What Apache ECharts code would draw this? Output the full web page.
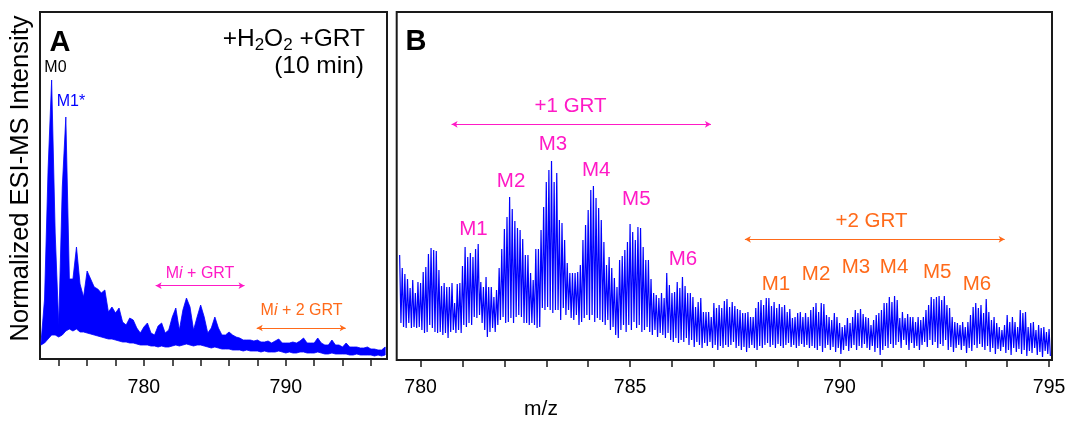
<!DOCTYPE html>
<html><head><meta charset="utf-8">
<script src="https://cdn.jsdelivr.net/npm/echarts@6/dist/echarts.min.js"></script>
<style>html,body{margin:0;padding:0;background:#fff}#c{width:1073px;height:421px}</style>
</head><body><div id="c"></div>
<script>
// ---------- DATA ----------
// Panel A: envelope of the ESI-MS spectrum sampled every 0.25 m/z starting at 772.75
const aStart = 772.75, aStep = 0.25;
const aUpper = [16,60,190,279,126,34,172,242,80,80,112,75,62,88,80,72,70,66,69,47,
  52,46,51,37,34,41,39,31,26,32,36,26,24,33,36,26,29,42,51,29,
  49,61,52,29,42,54,42,26,31,42,31,24,24,27,24,22,21,19,19,19,
  18,19,17,17,18,16,18,20,16,16,16,17,16,18,21,16,16,16,21,16,
  14,14,19,14,14,12,16,12,12,12,11,11,12,10,10,9,9,12];
const aLower = [14,16,20,24,24,22,24,28,30,28,30,27,27,26,25,24,23,22,21,20,
  20,19,18,17,17,16,16,15,14,14,14,13,13,12,13,12,12,13,14,13,
  14,15,14,13,14,14,13,12,11,12,11,10,10,10,9,9,9,8,9,8,
  8,8,7,8,7,7,7,8,7,6,7,6,6,7,7,6,6,6,7,6,
  5,5,6,5,5,5,5,4,4,5,4,4,4,4,3,4,3,4];
// Panel B: isotope peak tops and the valleys after them, one peak every 1/16 m/z from 779.5
const bStart = 779.5, bStep = 0.0625;
const bTops = [105,92,86,81,72,80,67,78,77,88,93,106,112,110,109,90,74,77,73,73,77,57,76,77,94,113,103,107,103,111,116,
  78,73,83,73,73,63,70,92,111,131,143,163,151,139,132,130,121,105,105,87,80,111,111,130,153,178,190,199,178,187,140,137,
  120,97,87,87,87,88,95,120,135,150,170,174,162,152,140,118,95,103,92,82,73,100,104,110,118,136,128,120,133,132,113,100,
  100,81,67,65,62,67,62,87,75,67,68,78,72,83,74,67,67,63,53,58,62,48,48,48,43,57,52,55,52,59,61,
  53,58,54,51,50,47,47,48,43,43,52,58,60,55,62,62,54,58,52,56,53,55,48,51,42,43,47,48,43,47,43,50,
  53,57,48,57,56,45,43,40,47,43,37,33,35,42,37,43,50,47,51,46,43,42,35,40,45,47,50,57,57,63,58,64,
  60,42,48,42,46,43,43,38,43,40,43,50,55,63,61,63,64,60,64,55,52,43,38,37,35,38,33,38,45,53,
  57,52,55,47,61,48,40,43,37,33,30,35,45,38,43,38,33,50,47,48,33,37,38,30,35,32,33,28,31];
const bValleys = [37,33,32,37,32,33,32,33,30,27,28,35,32,28,27,28,25,27,22,28,30,27,30,27,35,33,37,35,43,42,45,
  37,30,23,28,32,28,35,40,43,37,38,42,37,43,45,43,37,37,35,37,35,32,33,52,50,53,50,47,50,50,40,52,
  45,50,42,40,45,35,38,42,45,40,45,38,42,40,38,35,40,30,33,25,22,30,35,28,35,30,38,32,35,28,30,33,
  28,25,30,23,27,25,22,27,20,18,22,17,20,18,22,15,20,13,18,15,12,17,14,18,12,15,10,14,12,15,13,
  15,18,12,14,10,13,8,12,15,12,10,14,12,15,17,13,15,12,16,14,12,15,17,13,15,12,14,16,13,15,12,14,
  12,10,14,8,12,15,10,13,8,12,6,10,14,9,12,15,10,14,12,16,12,10,14,8,12,5,10,14,12,16,12,15,
  18,12,20,15,10,17,12,14,10,15,18,13,20,15,18,12,16,14,20,10,13,8,12,15,10,14,7,12,9,15,
  12,16,13,10,14,8,12,6,11,9,13,7,10,5,12,8,11,6,10,4,9,7,12,5,8,3,9,6,4];
// Axis ticks / labels
const aTickValues = [774,776,778,780,782,784,786,788,790,792,794,796];
const aTickLabels = [780,790];
const bTickValues = [780,781,782,783,784,785,786,787,788,789,790,791,792,793,794,795];
const bTickLabels = [780,785,790,795];
// Annotation texts
const bMagNames = ['M1','M2','M3','M4','M5','M6'];
const bOrgNames = ['M1','M2','M3','M4','M5','M6'];

// ---------- STYLE / LAYOUT ----------
const FONT = '"Liberation Sans", Arial, Helvetica, sans-serif';
const BLUE = '#0000ff', MAG = '#ff1ac6', ORG = '#ff6a1a', INK = '#1a1a1a';
const annot = {
  aM0: [773.77, 291], aM1: [774.86, 257],
  aGrt1: [783.96, 85], aArrow1: [780.83, 787.09, 73.3],
  aGrt2: [791.11, 48], aArrow2: [787.95, 794.22, 31],
  bGrt1: [783.58, 254], bArrow1: [780.74, 786.93, 235.7],
  bGrt2: [790.76, 139], bArrow2: [787.74, 793.94, 120.7],
  bMagX: [781.26, 782.16, 783.16, 784.19, 785.15, 786.26],
  bMagY: [130.7, 179, 216, 189.5, 161, 101],
  bOrgX: [788.48, 789.44, 790.39, 791.30, 792.33, 793.28],
  bOrgY: [75.3, 85.3, 92.5, 93, 88, 75.3]
};

const aRows = aUpper.map((v, i) => [aStart + i * aStep, v, aLower[i]]);
const bData = [];
for (let k = 0; k < bTops.length; k++) {
  const x = bStart + k * bStep;
  bData.push([x, bTops[k]]);
  bData.push([x + bStep / 2, bValleys[k]]);
}

function arrowLine(a, color) {
  return {
    silent: true, symbol: ['arrow', 'arrow'], symbolSize: [5, 6],
    label: {show: false}, emphasis: {disabled: true},
    lineStyle: {color: color, width: 1, type: 'solid'},
    data: [[{coord: [a[0], a[2]]}, {coord: [a[1], a[2]]}]]
  };
}

const chart = echarts.init(document.getElementById('c'), null, {renderer: 'canvas', width: 1073, height: 421});
const axisCommon = {type: 'value', axisLine: {show: false}, splitLine: {show: false}};
chart.setOption({
  animation: false,
  backgroundColor: '#fff',
  grid: [
    {left: 40, top: 12, width: 347, height: 347, show: true, borderColor: INK, borderWidth: 2},
    {left: 396.7, top: 12, width: 655.3, height: 348, show: true, borderColor: INK, borderWidth: 2}
  ],
  xAxis: [
    Object.assign({}, axisCommon, {gridIndex: 0, min: 772.68, max: 797.13,
      axisTick: {show: true, customValues: aTickValues, length: 7, lineStyle: {color: INK, width: 1.5}},
      axisLabel: {customValues: aTickLabels, fontSize: 19.5, color: '#000', fontFamily: FONT, margin: 19}}),
    Object.assign({}, axisCommon, {gridIndex: 1, min: 779.43, max: 795.07,
      axisTick: {show: true, customValues: bTickValues, length: 7, lineStyle: {color: INK, width: 1.5}},
      axisLabel: {customValues: bTickLabels, fontSize: 19.5, color: '#000', fontFamily: FONT, margin: 18}})
  ],
  yAxis: [
    {type: 'value', gridIndex: 0, min: 0, max: 347, show: false},
    {type: 'value', gridIndex: 1, min: 0, max: 348, show: false}
  ],
  series: [
    {type: 'custom', xAxisIndex: 0, yAxisIndex: 0, data: aRows, silent: true, clip: true,
      encode: {x: 0, y: [1, 2]},
      renderItem: function (params, api) {
        if (params.dataIndex !== 0) return null;
        const pts = [];
        for (let i = 0; i < aRows.length; i++) pts.push(api.coord([aRows[i][0], aRows[i][1]]));
        for (let i = aRows.length - 1; i >= 0; i--) pts.push(api.coord([aRows[i][0], aRows[i][2]]));
        return {type: 'polygon', shape: {points: pts}, style: {fill: BLUE, stroke: BLUE, lineWidth: 0.8}};
      }},
    {type: 'line', xAxisIndex: 0, yAxisIndex: 0, data: [], symbol: 'none', markLine: arrowLine(annot.aArrow1, MAG)},
    {type: 'line', xAxisIndex: 0, yAxisIndex: 0, data: [], symbol: 'none', markLine: arrowLine(annot.aArrow2, ORG)},
    {type: 'line', xAxisIndex: 1, yAxisIndex: 1, data: bData, symbol: 'none',
      lineStyle: {width: 1.2, color: BLUE}, silent: true},
    {type: 'line', xAxisIndex: 1, yAxisIndex: 1, data: [], symbol: 'none', markLine: arrowLine(annot.bArrow1, MAG)},
    {type: 'line', xAxisIndex: 1, yAxisIndex: 1, data: [], symbol: 'none', markLine: arrowLine(annot.bArrow2, ORG)}
  ]
});

// ---------- TEXT ----------
const ctx = document.createElement('canvas').getContext('2d');
function tw(str, size, weight) { ctx.font = (weight || 'normal') + ' ' + size + 'px ' + FONT; return ctx.measureText(str).width; }
function px(panel, p) { return chart.convertToPixel({xAxisIndex: panel, yAxisIndex: panel}, p); }
function txt(x, y, text, size, color, opts) {
  opts = opts || {};
  return {type: 'text', x: x, y: y, rotation: opts.rotation || 0, silent: true,
    style: Object.assign({text: text, x: 0, y: 0, fontSize: size, fontFamily: FONT, fill: color,
      fontWeight: opts.weight || 'normal', align: opts.align || 'center', verticalAlign: 'middle'}, opts.extra || {})};
}
const g = [];
g.push(txt(20.7, 178.5, 'Normalized ESI-MS Intensity', 25.5, '#000', {rotation: Math.PI / 2}));
g.push(txt(60, 42.5, 'A', 29, '#000', {weight: 'bold'}));
g.push(txt(416, 42, 'B', 29, '#000', {weight: 'bold'}));
g.push(txt(541, 409, 'm/z', 21, '#000'));
(function () {
  const big = 24.5, sub = 17, right = 365, cy = 39.5, sy = 45.5;
  const parts = [['+H', big], ['2', sub], ['O', big], ['2', sub], [' +GRT', big]];
  let total = 0; parts.forEach(p => total += tw(p[0], p[1]));
  let x = right - total;
  parts.forEach(p => { g.push(txt(x, p[1] === sub ? sy : cy, p[0], p[1], '#000', {align: 'left'})); x += tw(p[0], p[1]); });
})();
g.push(txt(364, 66.7, '(10 min)', 24.5, '#000', {align: 'right'}));
let p;
p = px(0, annot.aM0); g.push(txt(p[0], p[1], 'M0', 16, '#000'));
p = px(0, annot.aM1); g.push(txt(p[0], p[1], 'M1*', 16, BLUE));
p = px(0, annot.aGrt1);
g.push({type: 'text', x: p[0], y: p[1], silent: true, style: {text: '{n|M}{i|i}{n| + GRT}', align: 'center', verticalAlign: 'middle',
  rich: {n: {fontSize: 16, fontFamily: FONT, fill: MAG}, i: {fontSize: 16, fontFamily: FONT, fill: MAG, fontStyle: 'italic'}}}});
p = px(0, annot.aGrt2);
g.push({type: 'text', x: p[0], y: p[1], silent: true, style: {text: '{n|M}{i|i}{n| + 2 GRT}', align: 'center', verticalAlign: 'middle',
  rich: {n: {fontSize: 16, fontFamily: FONT, fill: ORG}, i: {fontSize: 16, fontFamily: FONT, fill: ORG, fontStyle: 'italic'}}}});
p = px(1, annot.bGrt1); g.push(txt(p[0], p[1], '+1 GRT', 20.5, MAG));
p = px(1, annot.bGrt2); g.push(txt(p[0], p[1], '+2 GRT', 20.5, ORG));
bMagNames.forEach((n, i) => { const q = px(1, [annot.bMagX[i], annot.bMagY[i]]); g.push(txt(q[0], q[1], n, 20.5, MAG)); });
bOrgNames.forEach((n, i) => { const q = px(1, [annot.bOrgX[i], annot.bOrgY[i]]); g.push(txt(q[0], q[1], n, 20.5, ORG)); });
chart.setOption({graphic: g});
</script>
</body></html>
